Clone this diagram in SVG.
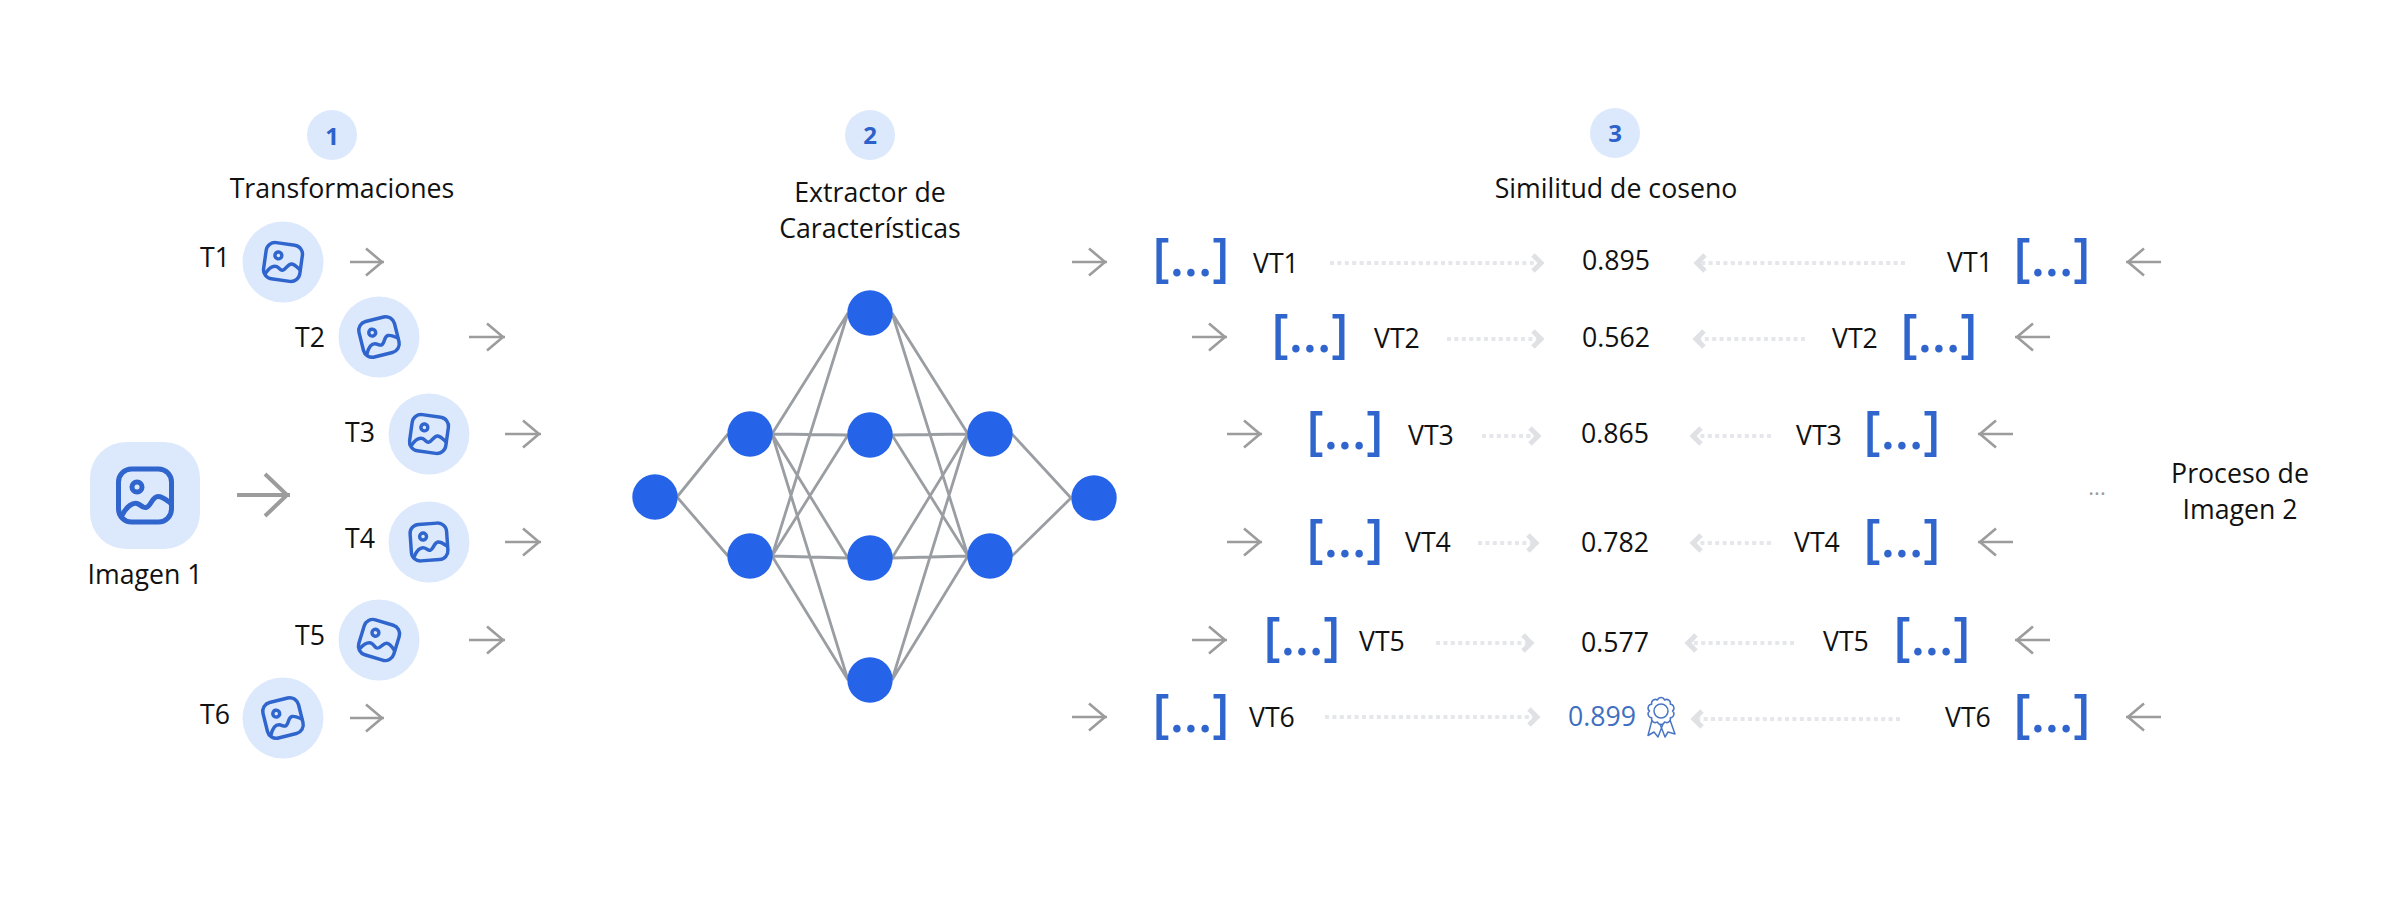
<svg xmlns="http://www.w3.org/2000/svg" width="2400" height="900" viewBox="0 0 2400 900">
<style>
text{font-family:"Open Sans","Noto Sans","Liberation Sans",sans-serif;font-size:26.700px;fill:#111}
.m{text-anchor:middle}
.num{font-size:24px;font-weight:700;fill:#2c62c9;text-anchor:middle}
.br{font-size:52px;font-weight:560;fill:#2f65cc;text-anchor:middle}
.disc{fill:#dce9fc}
.nn{fill:#2563e8}
.edge{stroke:#9a9ea3;stroke-width:2.800;fill:none}
.arr{stroke:#9c9c9c;stroke-width:2.600;fill:none;marker-end:url(#ah)}
.arrb{stroke:#9c9c9c;stroke-width:4;fill:none;marker-end:url(#ahb)}
.dot{stroke:#e5e7ea;stroke-width:4;stroke-dasharray:4 3.400;fill:none;marker-end:url(#ch)}
.ic{fill:none;stroke:#2f65cc;stroke-width:5;stroke-linecap:round;stroke-linejoin:round}
</style>
<defs>
<marker id="ah" markerUnits="userSpaceOnUse" markerWidth="44" markerHeight="44" viewBox="-22 -22 44 44" refX="0" refY="0" orient="auto"><path d="M-18,-13.500L-2,0L-18,13.500" fill="none" stroke="#9c9c9c" stroke-width="2.600"/></marker>
<marker id="ahb" markerUnits="userSpaceOnUse" markerWidth="60" markerHeight="60" viewBox="-30 -30 60 60" refX="0" refY="0" orient="auto"><path d="M-25,-21L-3,0L-25,21" fill="none" stroke="#9c9c9c" stroke-width="4"/></marker>
<marker id="ch" markerUnits="userSpaceOnUse" markerWidth="30" markerHeight="30" viewBox="-20 -15 30 30" refX="0" refY="0" orient="auto"><path d="M-8,-8L0,0L-8,8" fill="none" stroke="#dfe1e5" stroke-width="5"/></marker>
<g id="pic"><rect x="-26.500" y="-26.500" width="53" height="53" rx="13"/><circle cx="-8" cy="-8.500" r="5"/><path d="M-23,20C-18,10 -12,7 -8,8C-4,9 -2,13 1,12C6,11 7,1 13,1C18,1 22,5 26,8"/></g>
</defs>
<g id="connectors">
<g id="network-edges" class="edge">
<path d="M677,497L728,434M677,497L728,556M1012,434L1071,498M1012,556L1071,498"/>
<path d="M772,434L848,313M772,434L848,435M772,434L848,558M772,434L848,680M772,556L848,313M772,556L848,435M772,556L848,558M772,556L848,680"/>
<path d="M892,313L968,434M892,435L968,434M892,558L968,434M892,680L968,434M892,313L968,556M892,435L968,556M892,558L968,556M892,680L968,556"/>
</g>
<line class="arrb" x1="237" y1="495" x2="290" y2="495"/>
<line class="arr" x1="350" y1="262" x2="384" y2="262"/>
<line class="arr" x1="469" y1="337" x2="505" y2="337"/>
<line class="arr" x1="505" y1="434" x2="541" y2="434"/>
<line class="arr" x1="505" y1="542" x2="541" y2="542"/>
<line class="arr" x1="469" y1="640" x2="505" y2="640"/>
<line class="arr" x1="350" y1="718" x2="384" y2="718"/>
<line class="arr" x1="1072" y1="262" x2="1107" y2="262"/>
<line class="arr" x1="1192" y1="337" x2="1227" y2="337"/>
<line class="arr" x1="1227" y1="434" x2="1262" y2="434"/>
<line class="arr" x1="1227" y1="542" x2="1262" y2="542"/>
<line class="arr" x1="1192" y1="640" x2="1227" y2="640"/>
<line class="arr" x1="1072" y1="717" x2="1107" y2="717"/>
<line class="arr" x1="2161" y1="262" x2="2126" y2="262"/>
<line class="arr" x1="2050" y1="337" x2="2015" y2="337"/>
<line class="arr" x1="2013" y1="434" x2="1978" y2="434"/>
<line class="arr" x1="2013" y1="542" x2="1978" y2="542"/>
<line class="arr" x1="2050" y1="640" x2="2015" y2="640"/>
<line class="arr" x1="2161" y1="717" x2="2126" y2="717"/>
<line class="dot" x1="1330" y1="263" x2="1541" y2="263"/>
<line class="dot" x1="1447" y1="339" x2="1541" y2="339"/>
<line class="dot" x1="1482" y1="436" x2="1538" y2="436"/>
<line class="dot" x1="1478" y1="543" x2="1536" y2="543"/>
<line class="dot" x1="1436" y1="643" x2="1531" y2="643"/>
<line class="dot" x1="1325" y1="717" x2="1537" y2="717"/>
<line class="dot" x1="1905" y1="263" x2="1697" y2="263"/>
<line class="dot" x1="1805" y1="339" x2="1696" y2="339"/>
<line class="dot" x1="1771" y1="436" x2="1693" y2="436"/>
<line class="dot" x1="1771" y1="543" x2="1693" y2="543"/>
<line class="dot" x1="1794" y1="643" x2="1688" y2="643"/>
<line class="dot" x1="1900" y1="719" x2="1694" y2="719"/>
</g>
<g id="step-1"><circle class="disc" cx="332" cy="135" r="25"/><text class="num" x="332" y="145">1</text><text class="m" x="342" y="198">Transformaciones</text></g>
<g id="step-2"><circle class="disc" cx="870" cy="135" r="25"/><text class="num" x="870" y="144">2</text><text class="m" x="870" y="202">Extractor de</text><text class="m" x="870" y="238">Características</text></g>
<g id="step-3"><circle class="disc" cx="1615" cy="133" r="25"/><text class="num" x="1615" y="142">3</text><text class="m" x="1616" y="198">Similitud de coseno</text></g>
<g id="imagen-1"><rect class="disc" x="90" y="442" width="110" height="107" rx="36"/><use href="#pic" class="ic" transform="translate(145 495.500)"/><text class="m" x="145" y="584">Imagen 1</text></g>
<g id="t1"><circle class="disc" cx="283" cy="262" r="40.500"/><use href="#pic" class="ic" transform="translate(283 262) rotate(8) scale(.69)"/><text x="200" y="267">T1</text></g>
<g id="t2"><circle class="disc" cx="379" cy="337" r="40.500"/><use href="#pic" class="ic" transform="translate(379 337) rotate(-14) scale(.69)"/><text x="295" y="347">T2</text></g>
<g id="t3"><circle class="disc" cx="429" cy="434" r="40.500"/><use href="#pic" class="ic" transform="translate(429 434) rotate(8) scale(.69)"/><text x="345" y="442">T3</text></g>
<g id="t4"><circle class="disc" cx="429" cy="542" r="40.500"/><use href="#pic" class="ic" transform="translate(429 542) rotate(-4) scale(.69)"/><text x="345" y="548">T4</text></g>
<g id="t5"><circle class="disc" cx="379" cy="640" r="40.500"/><use href="#pic" class="ic" transform="translate(379 640) rotate(17) scale(.69)"/><text x="295" y="645">T5</text></g>
<g id="t6"><circle class="disc" cx="283" cy="718" r="40.500"/><use href="#pic" class="ic" transform="translate(283 718) rotate(-14) scale(.69)"/><text x="200" y="724">T6</text></g>
<g id="network">
<circle id="n1" class="nn" cx="655" cy="497" r="22.700"/>
<circle id="n2" class="nn" cx="750" cy="434" r="22.700"/>
<circle id="n3" class="nn" cx="750" cy="556" r="22.700"/>
<circle id="n4" class="nn" cx="870" cy="313" r="22.700"/>
<circle id="n5" class="nn" cx="870" cy="435" r="22.700"/>
<circle id="n6" class="nn" cx="870" cy="558" r="22.700"/>
<circle id="n7" class="nn" cx="870" cy="680" r="22.700"/>
<circle id="n8" class="nn" cx="990" cy="434" r="22.700"/>
<circle id="n9" class="nn" cx="990" cy="556" r="22.700"/>
<circle id="n10" class="nn" cx="1094" cy="498" r="22.700"/>
</g>
<g id="vectors-left">
<g id="vl1"><text class="br" x="1191" y="276">[...]</text><text x="1253" y="273">VT1</text></g>
<g id="vl2"><text class="br" x="1310" y="352">[...]</text><text x="1374" y="348">VT2</text></g>
<g id="vl3"><text class="br" x="1345" y="449">[...]</text><text x="1408" y="445">VT3</text></g>
<g id="vl4"><text class="br" x="1345" y="557">[...]</text><text x="1405" y="552">VT4</text></g>
<g id="vl5"><text class="br" x="1302" y="655">[...]</text><text x="1359" y="651">VT5</text></g>
<g id="vl6"><text class="br" x="1191" y="732">[...]</text><text x="1249" y="727">VT6</text></g>
</g>
<g id="vectors-right">
<g id="vr1"><text x="1947" y="272">VT1</text><text class="br" x="2052" y="276">[...]</text></g>
<g id="vr2"><text x="1832" y="348">VT2</text><text class="br" x="1939" y="352">[...]</text></g>
<g id="vr3"><text x="1796" y="445">VT3</text><text class="br" x="1902" y="449">[...]</text></g>
<g id="vr4"><text x="1794" y="552">VT4</text><text class="br" x="1902" y="557">[...]</text></g>
<g id="vr5"><text x="1823" y="651">VT5</text><text class="br" x="1932" y="655">[...]</text></g>
<g id="vr6"><text x="1945" y="727">VT6</text><text class="br" x="2052" y="732">[...]</text></g>
</g>
<g id="scores">
<text x="1582" y="270">0.895</text>
<text x="1582" y="347">0.562</text>
<text x="1581" y="443">0.865</text>
<text x="1581" y="552">0.782</text>
<text x="1581" y="652">0.577</text>
<text x="1568" y="726" style="fill:#3f6fc0">0.899</text>
<g id="medal" transform="translate(1661 711)" fill="none" stroke="#4a76c4" stroke-width="1.500" stroke-linejoin="round">
<path d="M11.500,0A3.800,3.800 0 0 1 9.300,6.760A3.800,3.800 0 0 1 3.550,10.940A3.800,3.800 0 0 1 -3.550,10.940A3.800,3.800 0 0 1 -9.300,6.760A3.800,3.800 0 0 1 -11.500,0A3.800,3.800 0 0 1 -9.300,-6.760A3.800,3.800 0 0 1 -3.550,-10.940A3.800,3.800 0 0 1 3.550,-10.940A3.800,3.800 0 0 1 9.300,-6.760A3.800,3.800 0 0 1 11.500,0Z"/>
<circle r="7"/>
<path d="M-9,9L-13,24.500L-7,21L-3,26L2,13M9,9L14,23L7,21L4,26L-1,13"/>
</g>
</g>
<g id="proceso-2"><text x="2097" y="495" class="m" style="font-size:22px;fill:#9c9c9c">...</text><text class="m" x="2240" y="483">Proceso de</text><text class="m" x="2240" y="519">Imagen 2</text></g>
</svg>
